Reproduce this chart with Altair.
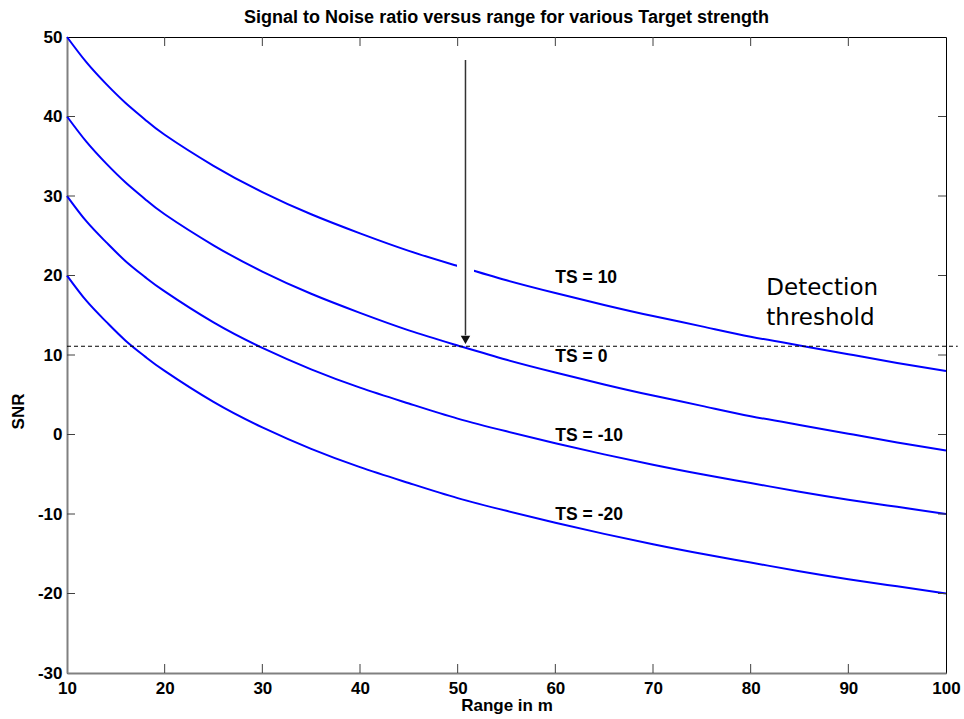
import altair as alt
import pandas as pd

# ---- data ----
ranges = [10, 12, 14, 16, 18, 20, 25, 30, 35, 40, 45, 50, 55, 60, 65, 70, 75, 80, 85, 90, 95, 100]
snr_ts_10 = [50.0, 46.8, 44.1, 41.7, 39.6, 37.7, 33.8, 30.5, 27.7, 25.3, 23.1, 21.2, 19.4, 17.8, 16.3, 14.9, 13.6, 12.3, 11.2, 10.1, 9.0, 8.0]
snr_ts_0 = [40.0, 36.8, 34.1, 31.7, 29.6, 27.7, 23.8, 20.5, 17.7, 15.3, 13.1, 11.2, 9.4, 7.8, 6.3, 4.9, 3.6, 2.3, 1.2, 0.1, -1.0, -2.0]
snr_ts_m10 = [30.0, 26.8, 24.2, 21.8, 19.8, 18.0, 14.1, 10.9, 8.2, 5.9, 3.9, 2.0, 0.4, -1.1, -2.5, -3.8, -5.0, -6.1, -7.2, -8.2, -9.1, -10.0]
snr_ts_m20 = [20.0, 16.8, 14.2, 11.8, 9.8, 8.0, 4.1, 0.9, -1.8, -4.1, -6.1, -8.0, -9.6, -11.1, -12.5, -13.8, -15.0, -16.1, -17.2, -18.2, -19.1, -20.0]
series_names = ["TS = 10", "TS = 0", "TS = -10", "TS = -20"]

label_x = [60, 60, 60, 60]
label_y = [19.1, 9.1, -0.8, -10.8]

threshold = 11.1
threshold_end = 101.2
arrow_x = 50.8
arrow_top = 47.1
arrow_bottom = 12.5
arrow_head_y = 11.9
gap_top = 24.0
gap_bottom = 18.0

det_text = ["Detection", "threshold"]
det_x = [81.6, 81.6]
det_y = [17.55, 13.8]

title_text = ["Signal to Noise ratio versus range for various Target strength"]

x_ticks = [10, 20, 30, 40, 50, 60, 70, 80, 90, 100]
y_ticks = [-30, -20, -10, 0, 10, 20, 30, 40, 50]
x_inner_ticks = [20, 30, 40, 50, 60, 70, 80, 90]
y_inner_ticks = [-20, -10, 0, 10, 20, 30, 40]

W, H = 879, 636
FONT = "Liberation Sans"

rows = []
for name, vals in zip(series_names, [snr_ts_10, snr_ts_0, snr_ts_m10, snr_ts_m20]):
    for r, v in zip(ranges, vals):
        rows.append({"x": r, "y": v, "series": name})
df = pd.DataFrame(rows)

xs = alt.Scale(domain=[10, 100], nice=False, zero=False)
ys = alt.Scale(domain=[-30, 50], nice=False, zero=False)

x_axis = alt.Axis(values=x_ticks, labelExpr="'' + datum.value", ticks=False, grid=False,
                  domainColor="#808080", domainWidth=2,
                  labelFont=FONT, labelFontSize=17, labelFontWeight="bold", labelColor="black",
                  labelPadding=7, labelFlush=False, labelOverlap=False,
                  title="Range in m", titleFont=FONT, titleFontSize=17, titleFontWeight="bold",
                  titleColor="black", titleBaseline="middle", titleY=32)
y_axis = alt.Axis(values=y_ticks, labelExpr="'' + datum.value", ticks=False, grid=False,
                  domainColor="#808080", domainWidth=2,
                  labelFont=FONT, labelFontSize=17, labelFontWeight="bold", labelColor="black",
                  labelPadding=5, labelFlush=False, labelOverlap=False,
                  title="SNR", titleFont=FONT, titleFontSize=17, titleFontWeight="bold",
                  titleColor="black", titleAngle=270, titleAlign="center", titleBaseline="middle",
                  titleX=-49, titleY=374)


def X(field="x"):
    return alt.X(f"{field}:Q", scale=xs, axis=x_axis, title="Range in m")


def Y(field="y"):
    return alt.Y(f"{field}:Q", scale=ys, axis=y_axis, title="SNR")


lines = alt.Chart(df).mark_line(color="#0000ff", strokeWidth=2, interpolate="natural").encode(
    x=X(), y=Y(), detail="series:N",
)

thr = alt.Chart(pd.DataFrame({"x": [10], "x2": [threshold_end], "y": [threshold]})).mark_rule(
    color="black", strokeWidth=1, strokeDash=[4, 3]
).encode(x=X(), x2="x2:Q", y=Y())

gap = alt.Chart(pd.DataFrame({"x": [arrow_x], "y": [gap_top], "y2": [gap_bottom]})).mark_rule(
    color="white", strokeWidth=17
).encode(x=X(), y=Y(), y2="y2:Q")

arrow = alt.Chart(pd.DataFrame({"x": [arrow_x], "y": [arrow_top], "y2": [arrow_bottom]})).mark_rule(
    color="#333333", strokeWidth=1.5
).encode(x=X(), y=Y(), y2="y2:Q")

head = alt.Chart(pd.DataFrame({"x": [arrow_x], "y": [arrow_head_y]})).mark_point(
    shape="triangle-down", size=90, filled=True, color="#111111", opacity=1
).encode(x=X(), y=Y())

labels = alt.Chart(pd.DataFrame({"x": label_x, "y": label_y, "t": series_names})).mark_text(
    align="left", baseline="alphabetic", font=FONT, fontSize=17.5, fontWeight="bold", color="black"
).encode(x=X(), y=Y(), text="t:N")

det = alt.Chart(pd.DataFrame({"x": det_x, "y": det_y, "t": det_text})).mark_text(
    align="left", baseline="alphabetic", font="DejaVu Sans", fontSize=23, color="black"
).encode(x=X(), y=Y(), text="t:N")

title = alt.Chart(pd.DataFrame({"t": title_text})).mark_text(
    align="center", baseline="alphabetic", font=FONT, fontSize=18, fontWeight="bold", color="black"
).encode(x=alt.value(W / 2), y=alt.value(-14), text="t:N")

xt = pd.DataFrame({"x": x_inner_ticks})
yt = pd.DataFrame({"y": y_inner_ticks})
tick_color = "#404040"
bottom_ticks = alt.Chart(xt).mark_rule(color=tick_color, strokeWidth=1).encode(
    x=X(), y=alt.value(H), y2=alt.value(H - 9))
top_ticks = alt.Chart(xt).mark_rule(color=tick_color, strokeWidth=1).encode(
    x=X(), y=alt.value(0), y2=alt.value(9))
left_ticks = alt.Chart(yt).mark_rule(color=tick_color, strokeWidth=1).encode(
    y=Y(), x=alt.value(0), x2=alt.value(8))
right_ticks = alt.Chart(yt).mark_rule(color=tick_color, strokeWidth=1).encode(
    y=Y(), x=alt.value(W), x2=alt.value(W - 8))

chart = alt.layer(
    lines, bottom_ticks, top_ticks, left_ticks, right_ticks, thr, gap, arrow, head, labels, det, title
).properties(
    width=W, height=H,
    autosize=alt.AutoSizeParams(type="none"),
    padding={"left": 67, "top": 37, "right": 18, "bottom": 46},
    background="white",
).configure_view(stroke="black", strokeWidth=1)

chart.save("out.html", embed_options={"renderer": "svg", "actions": False})
